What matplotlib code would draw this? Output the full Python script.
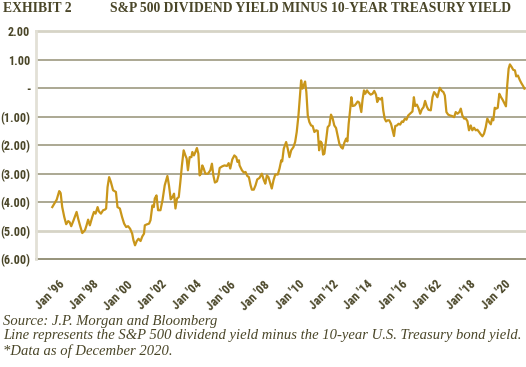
import matplotlib
matplotlib.use("Agg")
import matplotlib.pyplot as plt
import numpy as np

# ---- data (months since Jan 1996, spread) ----
months = [0.0, 2.8, 4.4, 5.3, 6.3, 7.6, 8.8, 10.1, 11.0, 12.0, 13.5, 15.4, 16.4, 17.7, 19.0,
          20.7, 21.7, 22.7, 23.8, 25.3, 26.4, 27.4, 28.7, 29.5, 30.8, 32.2, 33.3, 34.1, 35.0,
          36.0, 37.1, 38.5, 40.3, 41.3, 42.8, 44.2, 45.5, 46.8, 48.0, 49.3, 50.6, 51.4, 52.4,
          53.5, 54.6, 55.9, 57.0, 58.1, 58.6, 59.7, 61.3, 62.2, 63.4, 64.3, 64.9, 66.0, 67.0,
          68.5, 69.8, 71.2, 72.9, 73.9, 75.0, 76.1, 77.1, 78.0, 79.0, 80.1, 81.1, 82.1, 83.2,
          84.3, 85.1, 85.9, 87.0, 88.1, 88.7, 89.7, 90.8, 91.6, 92.5, 93.3, 94.2, 95.0, 95.9,
          96.9, 98.6, 100.1, 101.1, 102.0, 103.0, 104.3, 105.3, 106.0, 107.7, 109.1, 110.6,
          111.7, 112.7, 114.0, 115.3, 116.5, 117.3, 118.2, 118.6, 120.1, 121.3, 122.4, 123.5,
          124.5, 125.6, 126.4, 127.6, 128.7, 129.8, 131.2, 132.7, 134.0, 134.9, 135.9, 136.9,
          137.8, 139.0, 140.1, 141.2, 142.8, 143.9, 145.0, 145.6, 146.6, 148.1, 149.1, 150.2,
          151.3, 152.7, 153.8, 154.8, 155.9, 157.0, 157.6, 158.4, 159.2, 160.1, 160.9, 161.8,
          162.8, 163.9, 164.9, 166.0, 167.1, 168.1, 169.0, 169.8, 170.6, 171.5, 172.3, 173.4,
          174.4, 175.5, 176.5, 177.5, 178.6, 179.7, 180.7, 181.8, 182.9, 183.9, 185.0, 186.1,
          186.9, 187.7, 188.6, 189.4, 190.2, 191.5, 192.4, 193.4, 194.4, 195.7, 196.5, 197.4,
          198.2, 199.3, 200.3, 201.6, 202.8, 203.9, 205.0, 205.8, 206.6, 207.7, 208.8, 209.6,
          210.5, 211.4, 212.3, 213.4, 214.5, 215.5, 216.4, 217.2, 218.3, 219.3, 220.3, 221.4,
          222.2, 223.3, 224.3, 225.4, 226.5, 227.3, 228.1, 229.0, 229.8, 230.9, 231.9, 233.0,
          234.0, 235.1, 236.1, 237.2, 238.2, 239.7, 240.8, 241.8, 242.9, 243.9, 245.4, 246.7,
          247.7, 248.6, 249.6, 250.7, 251.9, 253.2, 254.5, 255.5, 256.6, 257.8, 258.7, 259.7,
          260.8, 261.9, 262.9, 263.9, 265.0, 266.0, 267.1, 268.2, 269.2, 270.3, 271.3, 272.4,
          273.4, 274.5, 275.5, 276.6, 277.7, 278.5, 279.3, 280.2, 281.2, 282.1, 283.1, 284.2,
          285.2, 286.5, 287.3, 288.1, 289.0, 289.8, 290.9, 291.9, 293.0, 293.8, 294.9, 296.0,
          297.0, 298.3, 299.0]
values = [-4.17, -3.91, -3.61, -3.68, -4.17, -4.52, -4.77, -4.66, -4.70, -4.84, -4.63, -4.34, -4.58, -4.84, -5.08,
          -4.98, -4.81, -4.61, -4.81, -4.52, -4.34, -4.40, -4.17, -4.32, -4.40, -4.28, -4.26, -4.22, -3.47,
          -3.12, -3.29, -3.58, -3.64, -4.17, -4.22, -4.52, -4.75, -4.87, -4.84, -4.93, -5.10, -5.33, -5.51,
          -5.36, -5.28, -5.36, -5.20, -5.10, -4.81, -4.78, -4.75, -4.63, -4.11, -4.17, -3.87, -3.76, -4.28,
          -4.28, -3.93, -3.41, -3.08, -3.41, -3.90, -3.82, -3.70, -4.22, -3.87, -3.82, -3.29, -2.71, -2.18,
          -2.36, -2.47, -2.88, -2.42, -2.42, -2.24, -2.36, -2.22, -2.10, -2.30, -3.06, -3.00, -2.71, -2.82,
          -3.00, -3.00, -2.88, -2.65, -3.06, -3.31, -3.27, -3.06, -2.80, -2.74, -2.71, -2.73,
          -2.63, -2.82, -2.50, -2.36, -2.42, -2.59, -2.53, -2.71, -2.88, -2.96, -2.94, -3.08,
          -3.12, -3.41, -3.56, -3.56, -3.41, -3.20, -3.15, -3.00, -3.23, -3.35, -3.06, -3.12,
          -3.29, -3.52, -3.23, -3.03, -3.03, -2.82, -2.53, -2.57, -2.12, -1.89, -2.12, -2.42,
          -2.18, -2.07, -1.89, -1.54, -0.96, -0.14, 0.27, -0.02, 0.09, 0.23, -0.14, -0.96,
          -1.19, -1.31, -1.33, -1.54, -1.48, -1.50, -2.18, -1.87, -1.92, -2.33, -2.30, -1.83,
          -1.37, -1.30, -0.93, -1.05, -1.31, -1.40, -1.66, -1.95, -2.07, -2.12, -1.91, -1.77,
          -1.87, -1.25, -0.78, -0.32, -0.63, -0.61, -0.55, -0.47, -0.51, -0.84, -0.40, -0.08,
          -0.20, -0.08, -0.16, -0.23, -0.20, -0.10, -0.23, -0.49, -0.35, -0.40, -0.34, -0.78,
          -1.07, -1.17, -1.13, -1.13, -1.25, -1.48, -1.68, -1.33, -1.31, -1.25, -1.28, -1.17,
          -1.19, -1.07, -1.11, -0.96, -0.90, -0.86, -0.82, -0.32, -0.63, -0.58, -0.70, -0.90,
          -0.75, -0.67, -0.45, -0.65, -0.76, -0.78, -0.32, -0.14, -0.22, -0.32, 0.01, -0.10,
          -0.14, -0.26, -0.84, -0.93, -0.96, -0.98, -1.02, -0.84, -0.90, -0.84, -0.72, -0.96,
          -1.07, -1.07, -1.16, -1.48, -1.31, -1.48, -1.39, -1.48, -1.46, -1.54, -1.62, -1.69,
          -1.60, -1.37, -1.07, -1.19, -1.27, -1.07, -1.13, -0.69, -0.72, -0.69, -0.20, -0.32,
          -0.41, -0.55, -0.64, 0.09, 0.68, 0.83, 0.74, 0.64, 0.62, 0.41, 0.44, 0.29,
          0.18, 0.06, -0.02]

y_ticks = [2, 1, 0, -1, -2, -3, -4, -5, -6]
y_labels = ["2.00", "1.00", "-", "(1.00)", "(2.00)", "(3.00)", "(4.00)", "(5.00)", "(6.00)"]
x_labels = ["Jan '96", "Jan '98", "Jan '00", "Jan '02", "Jan '04", "Jan '06", "Jan '08",
            "Jan '10", "Jan '12", "Jan '14", "Jan '16", "Jan '62", "Jan '18", "Jan '20"]

title_left = "EXHIBIT 2"
title_main = "S&P 500 DIVIDEND YIELD MINUS 10-YEAR TREASURY YIELD"
notes = ["Source: J.P. Morgan and Bloomberg",
         "Line represents the S&P 500 dividend yield minus the 10-year U.S. Treasury bond yield.",
         "*Data as of December 2020."]

# ---- styles ----
W, H = 526, 367
TXT = "#4a4628"
LINE = "#C9961A"
GRID = "#A5A18A"
LIGHT = "#D6D4C6"
cond = ["Liberation Sans Narrow", "Roboto Condensed", "DejaVu Sans"]

fig = plt.figure(figsize=(W / 100, H / 100), dpi=100)
ax = fig.add_axes([35.7 / W, 1 - 259.3 / H, (526 - 35.7) / W, (259.3 - 31) / H])

for yv in y_ticks:
    if yv in (2, -5):
        ax.axhline(yv, color=LIGHT, lw=2.0, zorder=1, clip_on=False)
    elif yv == -6:
        ax.axhline(yv, color="#8E8A70", lw=1.3, zorder=1, clip_on=False)
    else:
        ax.axhline(yv, color=GRID, lw=1.3, zorder=1)

ax.plot(months, values, color=LINE, lw=1.6, solid_joinstyle="round", zorder=3)

ax.set_xlim(-10.5, 300)
ax.set_ylim(-6, 2)
for s in ("top", "right", "bottom"):
    ax.spines[s].set_visible(False)
ax.spines["left"].set_color("#E2E0D6")
ax.spines["left"].set_linewidth(2.0)

ax.set_yticks(y_ticks)
ax.set_yticklabels(y_labels, family=cond, weight="bold", fontsize=8.7, color=TXT)
ax.tick_params(axis="y", length=0, pad=4)

tick_first, tick_last = 3.5, 286.0
ax.set_xticks(np.linspace(tick_first, tick_last, len(x_labels)))
ax.set_xticklabels(x_labels, family=cond, weight="bold", fontsize=9, color=TXT,
                   rotation=45, ha="right", va="top", rotation_mode="anchor")
ax.tick_params(axis="x", length=0, pad=13.5)

fig.text(3 / W, 1 - 8 / H, title_left, family="Liberation Serif", weight="bold",
         fontsize=9.8, color=TXT, va="center", ha="left")
fig.text(110 / W, 1 - 8 / H, title_main, family="Liberation Serif", weight="bold",
         fontsize=9.8, color=TXT, va="center", ha="left")

for i, t in enumerate(notes):
    fig.text(3 / W, 1 - (321 + i * 15) / H, t, family="Liberation Serif", style="italic",
             fontsize=10.5, color=TXT, va="center", ha="left")

fig.savefig("out.png", dpi=100, facecolor="white")
